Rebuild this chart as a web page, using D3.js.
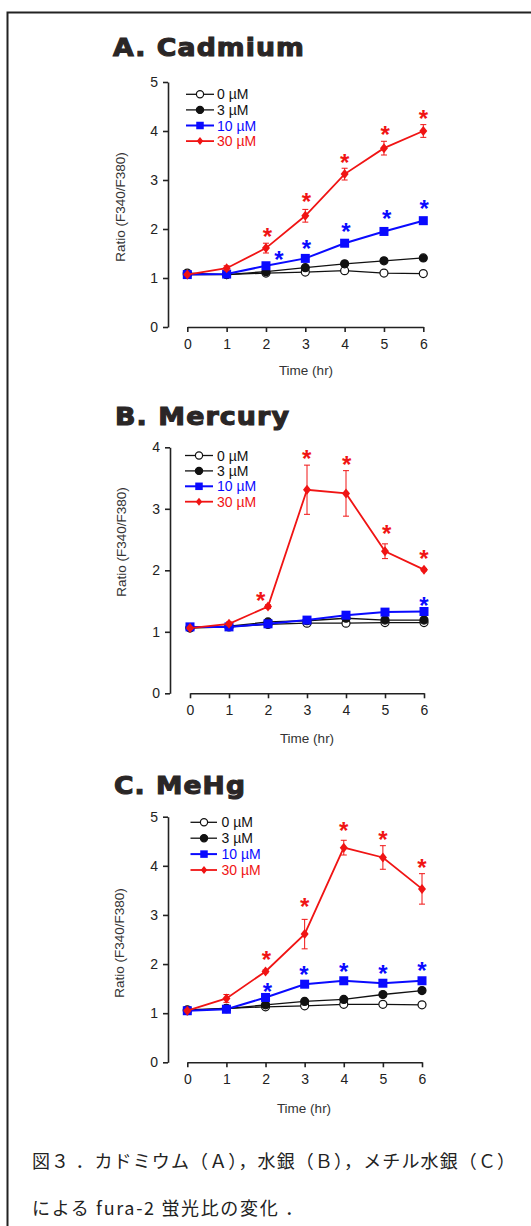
<!DOCTYPE html>
<html>
<head>
<meta charset="utf-8">
<script src="https://cdn.jsdelivr.net/npm/d3@7"></script>
<style>
  body { margin: 0; background: #fff; }
  svg { display: block; }
  .tick text { font-family: "Liberation Sans", Arial, sans-serif; fill: #222; }
</style>
</head>
<body>
<svg id="fig" width="531" height="1226"></svg>
<script>
// time points (hr) and dose labels
var times = [0, 1, 2, 3, 4, 5, 6];
var doses = ["0 µM", "3 µM", "10 µM", "30 µM"];

// A. Cadmium
var cd0 = [1.10, 1.07, 1.10, 1.12, 1.15, 1.10, 1.09];
var cd3 = [1.07, 1.07, 1.13, 1.21, 1.29, 1.35, 1.41];
var cd10 = [1.07, 1.08, 1.25, 1.40, 1.71, 1.95, 2.17];
var cd30 = [1.07, 1.20, 1.61, 2.27, 3.12, 3.65, 4.00];
var cd30Err = [0.02, 0.05, 0.10, 0.13, 0.12, 0.14, 0.13];
var cdStars10 = [[2.33, 1.48], [3.03, 1.71], [4.03, 2.06], [5.07, 2.33], [6.02, 2.53]];
var cdStars30 = [[2.04, 1.96], [3.03, 2.67], [4.0, 3.47], [5.03, 4.05], [6.0, 4.37]];

// B. Mercury
var hg0 = [1.06, 1.08, 1.12, 1.14, 1.14, 1.15, 1.15];
var hg3 = [1.07, 1.09, 1.16, 1.18, 1.22, 1.19, 1.19];
var hg10 = [1.08, 1.08, 1.13, 1.19, 1.27, 1.32, 1.33];
var hg30 = [1.06, 1.13, 1.41, 3.31, 3.25, 2.31, 2.01];
var hg30Err = [0.02, 0.03, 0.03, 0.40, 0.37, 0.12, 0.02];
var hgStars10 = [[6.0, 1.52]];
var hgStars30 = [[1.81, 1.60], [2.99, 3.90], [4.02, 3.81], [5.04, 2.69], [6.0, 2.28]];

// C. MeHg
var me0 = [1.05, 1.10, 1.13, 1.15, 1.18, 1.18, 1.17];
var me3 = [1.07, 1.09, 1.17, 1.24, 1.28, 1.38, 1.46];
var me10 = [1.05, 1.08, 1.32, 1.59, 1.66, 1.61, 1.66];
var me30 = [1.05, 1.30, 1.85, 2.61, 4.37, 4.17, 3.53];
var me30Err = [0.02, 0.08, 0.03, 0.30, 0.15, 0.24, 0.31];
var meStars10 = [[2.05, 1.56], [2.98, 1.89], [4.0, 1.97], [5.0, 1.91], [6.0, 1.98]];
var meStars30 = [[2.02, 2.20], [3.0, 3.28], [4.0, 4.84], [5.0, 4.65], [6.0, 4.08]];

var captionLines = [
    "図３ ．カドミウム（Ａ），水銀（Ｂ），メチル水銀（Ｃ）",
    "による fura-2 蛍光比の変化 ．"
];

// styles per dose
var styles = [
    {color: "#111", fill: "#fff", shape: "circle", size: 4, lw: 1.3, legSize: 3.6},
    {color: "#111", fill: "#111", shape: "circle", size: 4, lw: 1.3, legSize: 3.6},
    {color: "#0a0aff", fill: "#0a0aff", shape: "square", size: 9, lw: 2, legSize: 7.5},
    {color: "#f01414", fill: "#f01414", shape: "diamond", size: 5, lw: 1.8, legSize: 4}
];

var panels = [
    {title: "A. Cadmium", series: [cd0, cd3, cd10, cd30], err: cd30Err, stars10: cdStars10, stars30: cdStars30, yMax: 5,
     L: {tx: 113, ty: 56, tw: 192, ax: 168, yTop: 82, yBot: 327, x0: 187.3, x1: 423.3,
         lg: {l0: 186, l1: 214, m: 200, t: 217, y: 94.3, dy: 15.6}, yl: {x: 120, y: 207}, xl: {x: 306, y: 375}}},
    {title: "B. Mercury", series: [hg0, hg3, hg10, hg30], err: hg30Err, stars10: hgStars10, stars30: hgStars30, yMax: 4,
     L: {tx: 115, ty: 425, tw: 175, ax: 170, yTop: 447.3, yBot: 693.3, x0: 190, x1: 424,
         lg: {l0: 185, l1: 213, m: 199, t: 217, y: 455.5, dy: 15.4}, yl: {x: 121, y: 542}, xl: {x: 307, y: 743}}},
    {title: "C. MeHg", series: [me0, me3, me10, me30], err: me30Err, stars10: meStars10, stars30: meStars30, yMax: 5,
     L: {tx: 114, ty: 794, tw: 132, ax: 168, yTop: 816.7, yBot: 1062.3, x0: 187.3, x1: 422,
         lg: {l0: 190.5, l1: 217, m: 204, t: 221.5, y: 822.3, dy: 15.9}, yl: {x: 119, y: 943}, xl: {x: 304, y: 1113}}}
];

var svg = d3.select("#fig");

// frame
svg.append("path")
    .attr("d", "M7.5,1226 L7.5,12.5 L531,12.5")
    .attr("fill", "none")
    .attr("stroke", "#222")
    .attr("stroke-width", 2);

var drawMarker = function (g, st, x, y, s) {
    if (st.shape === "circle") {
        g.append("circle").attr("cx", x).attr("cy", y).attr("r", s)
            .attr("fill", st.fill).attr("stroke", st.color).attr("stroke-width", 1.2);
    } else if (st.shape === "square") {
        g.append("rect").attr("x", x - s / 2).attr("y", y - s / 2).attr("width", s).attr("height", s)
            .attr("fill", st.fill);
    } else {
        g.append("path").attr("d", "M" + x + "," + (y - s) + "L" + (x + s * 0.8) + "," + y + "L" + x + "," + (y + s) + "L" + (x - s * 0.8) + "," + y + "Z")
            .attr("fill", st.fill);
    }
};

panels.forEach(function (p) {
    var L = p.L;
    var g = svg.append("g");
    var x = d3.scaleLinear().domain([0, 6]).range([L.x0, L.x1]);
    var y = d3.scaleLinear().domain([0, p.yMax]).range([L.yBot, L.yTop]);

    g.append("text")
        .attr("x", L.tx).attr("y", L.ty)
        .attr("textLength", L.tw).attr("lengthAdjust", "spacingAndGlyphs")
        .style("font-family", "'DejaVu Sans', sans-serif")
        .style("font-weight", "bold")
        .style("font-size", "24.5px")
        .style("fill", "#2a2626")
        .style("stroke", "#2a2626")
        .style("stroke-width", "1.1px")
        .style("letter-spacing", "1px")
        .text(p.title);

    var ya = g.append("g")
        .attr("transform", "translate(" + L.ax + ",0)")
        .call(d3.axisLeft(y).ticks(p.yMax).tickSize(5).tickSizeOuter(0).tickPadding(5).tickFormat(d3.format("d")));
    var xa = g.append("g")
        .attr("transform", "translate(0," + L.yBot + ")")
        .call(d3.axisBottom(x).tickValues(times).tickSize(5).tickSizeOuter(0).tickPadding(7).tickFormat(d3.format("d")));
    [ya, xa].forEach(function (a) {
        a.selectAll("path, line").attr("stroke", "#222").attr("stroke-width", 1.6);
        a.selectAll("text").style("font-size", "14px");
    });

    g.append("text")
        .attr("transform", "translate(" + L.yl.x + "," + L.yl.y + ") rotate(-90)")
        .attr("text-anchor", "middle").attr("dy", "0.35em")
        .style("font-family", "'Liberation Sans', Arial, sans-serif")
        .style("font-size", "13.5px").style("fill", "#333")
        .text("Ratio (F340/F380)");
    g.append("text")
        .attr("x", L.xl.x).attr("y", L.xl.y).attr("text-anchor", "middle")
        .style("font-family", "'Liberation Sans', Arial, sans-serif")
        .style("font-size", "13.5px").style("fill", "#333")
        .text("Time (hr)");

    var line = d3.line().x(function (d, i) { return x(times[i]); }).y(function (d) { return y(d); });

    p.series.forEach(function (vals, si) {
        var st = styles[si];
        if (si === 3) {
            vals.forEach(function (v, i) {
                var e = p.err[i];
                var cx = x(times[i]);
                g.append("path")
                    .attr("d", "M" + cx + "," + y(v - e) + "V" + y(v + e) +
                        "M" + (cx - 3) + "," + y(v + e) + "H" + (cx + 3) +
                        "M" + (cx - 3) + "," + y(v - e) + "H" + (cx + 3))
                    .attr("fill", "none").attr("stroke", st.color).attr("stroke-width", 1);
            });
        }
        g.append("path").datum(vals).attr("d", line)
            .attr("fill", "none").attr("stroke", st.color).attr("stroke-width", st.lw);
        vals.forEach(function (v, i) { drawMarker(g, st, x(times[i]), y(v), st.size); });
    });

    // significance stars
    [[p.stars10, styles[2].color], [p.stars30, styles[3].color]].forEach(function (s) {
        g.selectAll(null).data(s[0]).enter().append("text")
            .attr("x", function (d) { return x(d[0]); })
            .attr("y", function (d) { return y(d[1]) + 14; })
            .attr("text-anchor", "middle")
            .style("font-family", "'Liberation Sans', Arial, sans-serif")
            .style("font-weight", "bold")
            .style("font-size", "24px")
            .style("fill", s[1])
            .text("*");
    });

    // legend
    doses.forEach(function (d, i) {
        var st = styles[i];
        var ly = L.lg.y + i * L.lg.dy;
        g.append("line").attr("x1", L.lg.l0).attr("x2", L.lg.l1).attr("y1", ly).attr("y2", ly)
            .attr("stroke", st.color).attr("stroke-width", st.lw);
        drawMarker(g, st, L.lg.m, ly, st.legSize);
        g.append("text").attr("x", L.lg.t).attr("y", ly).attr("dy", "0.36em")
            .style("font-family", "'Liberation Sans', Arial, sans-serif")
            .style("font-size", "14px")
            .style("fill", i < 2 ? "#111" : st.color)
            .text(d);
    });
});

svg.selectAll(null).data(captionLines).enter().append("text")
    .attr("x", 32)
    .attr("y", function (d, i) { return 1168 + i * 47; })
    .attr("textLength", function (d, i) { return i === 0 ? 483 : 271; })
    .attr("lengthAdjust", "spacing")
    .style("font-family", "'Noto Sans CJK JP', sans-serif")
    .style("font-size", "18px")
    .style("fill", "#222")
    .text(function (d) { return d; });
</script>
</body>
</html>
